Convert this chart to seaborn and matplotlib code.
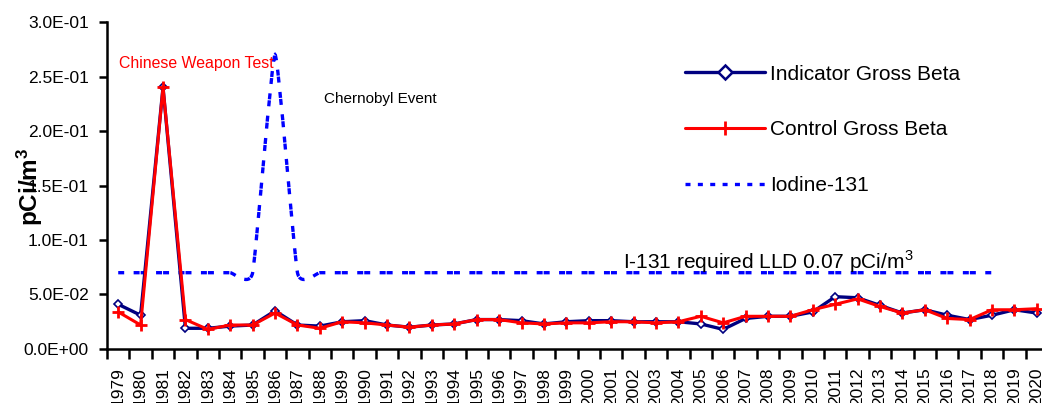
import numpy as np
import pandas as pd
import matplotlib
matplotlib.use("Agg")
import matplotlib.pyplot as plt
import seaborn as sns
from matplotlib.path import Path
from matplotlib.patches import PathPatch
from matplotlib.lines import Line2D

# Annual average airborne activity (pCi/m^3)
years = [str(y) for y in range(1979, 2021)]
indicator = [0.041, 0.031, 0.240, 0.019, 0.019, 0.021, 0.022, 0.035, 0.022, 0.021,
             0.025, 0.026, 0.022, 0.020, 0.022, 0.023, 0.027, 0.027, 0.026, 0.023,
             0.025, 0.026, 0.026, 0.025, 0.025, 0.025, 0.023, 0.018, 0.028, 0.030,
             0.030, 0.034, 0.048, 0.047, 0.040, 0.033, 0.036, 0.031, 0.027, 0.031,
             0.036, 0.033]
control = [0.034, 0.022, 0.240, 0.027, 0.018, 0.022, 0.022, 0.033, 0.022, 0.019,
           0.025, 0.024, 0.022, 0.020, 0.022, 0.023, 0.027, 0.027, 0.024, 0.023,
           0.024, 0.024, 0.025, 0.025, 0.024, 0.025, 0.030, 0.024, 0.030, 0.030,
           0.030, 0.036, 0.041, 0.046, 0.039, 0.033, 0.036, 0.028, 0.027, 0.036,
           0.036, 0.037]
# Iodine-131 reported through 2018
iodine = [0.07, 0.07, 0.07, 0.07, 0.07, 0.07, 0.07, 0.27, 0.07, 0.07,
          0.07, 0.07, 0.07, 0.07, 0.07, 0.07, 0.07, 0.07, 0.07, 0.07,
          0.07, 0.07, 0.07, 0.07, 0.07, 0.07, 0.07, 0.07, 0.07, 0.07,
          0.07, 0.07, 0.07, 0.07, 0.07, 0.07, 0.07, 0.07, 0.07, 0.07]
lld = 0.07
series_labels = ["Indicator Gross Beta", "Control Gross Beta", "Iodine-131"]
y_ticks = [0.0, 0.05, 0.10, 0.15, 0.20, 0.25, 0.30]

sns.set_theme(style="white")
plt.rcParams["font.family"] = ["Liberation Sans", "DejaVu Sans"]
plt.rcParams["mathtext.fontset"] = "custom"
plt.rcParams["mathtext.rm"] = "Liberation Sans"
plt.rcParams["mathtext.bf"] = "Liberation Sans:bold"
plt.rcParams["lines.scale_dashes"] = False
for key in ["text.color", "axes.labelcolor", "xtick.color", "ytick.color", "axes.edgecolor"]:
    plt.rcParams[key] = "black"

NAVY, RED, BLUE = "#000080", "#FF0000", "#0000FF"

fig = plt.figure(figsize=(10.42, 4.03), dpi=100)
ax = fig.add_axes([0.1027, 0.134, 0.9031, 0.8114])

pos = np.arange(len(years))
df = pd.DataFrame({"pos": pos, "year": years,
                   "Indicator": indicator, "Control": control})

sns.lineplot(data=df, x="pos", y="Indicator", ax=ax, color=NAVY, lw=2.4,
             marker="D", markersize=4, markerfacecolor="white",
             markeredgecolor=NAVY, markeredgewidth=1.2, zorder=2)
sns.lineplot(data=df, x="pos", y="Control", ax=ax, color=RED, lw=2.2,
             marker="+", markersize=9, markeredgecolor=RED,
             markeredgewidth=2.0, zorder=3)


def smoothed_path(xs, ys, tension):
    """Cubic Bezier path through the points (spreadsheet-style smoothed line)."""
    pts = np.column_stack([xs, ys]).astype(float)
    n = len(pts)
    verts = [pts[0]]
    codes = [Path.MOVETO]
    for i in range(n - 1):
        p0 = pts[max(i - 1, 0)]
        p1 = pts[i]
        p2 = pts[i + 1]
        p3 = pts[min(i + 2, n - 1)]
        verts += [p1 + (p2 - p0) * tension, p2 - (p3 - p1) * tension, p2]
        codes += [Path.CURVE4] * 3
    return Path(verts, codes)


iod_path = smoothed_path(np.arange(len(iodine)), iodine, 0.07)
ax.add_patch(PathPatch(iod_path, fill=False, edgecolor=BLUE, lw=2.4,
                       linestyle=(0, (4.3, 6.8, 4.3, 0.75)), capstyle="butt",
                       zorder=1.5))

# Axes styling
ax.set_xlim(-0.5, len(years) - 0.5)
ax.set_ylim(0, 0.3)
ax.set_xticks(np.arange(len(years) + 1) - 0.5)
ax.set_xticklabels([])
ax.set_xticks(pos, minor=True)
ax.set_xticklabels(years, minor=True, rotation=90, fontsize=12.5)
ax.tick_params(axis="x", which="major", length=7, width=1.8, direction="out", bottom=True)
ax.tick_params(axis="x", which="minor", length=0, pad=13)
ax.set_yticks(y_ticks)
ax.set_yticklabels([f"{v:.1E}" for v in y_ticks], fontsize=12.5)
ax.tick_params(axis="y", length=6, width=1.8, direction="out", pad=7, left=True)
ax.set_xlabel("")
ax.set_ylabel(r"$\mathbf{pCi/m^3}$", fontsize=17.5)
ax.yaxis.set_label_coords(-0.0818, 0.495)
ax.yaxis.label.set_va("center")
for side in ["top", "right"]:
    ax.spines[side].set_visible(False)
for side in ["left", "bottom"]:
    ax.spines[side].set_linewidth(1.8)
    ax.spines[side].set_color("black")
ax.grid(False)

# Annotations
ax.text(0.04, 0.2575, "Chinese Weapon Test", color=RED, fontsize=11.4, va="baseline")
ax.text(9.19, 0.2254, "Chernobyl Event", color="black", fontsize=11, va="baseline")
ax.text(22.54, 0.074, f"I-131 required LLD {lld} pCi/m$^3$", color="black",
        fontsize=15, va="baseline")

# Legend
handles = [
    Line2D([], [], color=NAVY, lw=2.4, marker="D", markersize=7,
           markerfacecolor="white", markeredgecolor=NAVY, markeredgewidth=1.8),
    Line2D([], [], color=RED, lw=2.2, marker="+", markersize=10,
           markeredgewidth=2.0),
    Line2D([], [], color=BLUE, lw=2.4, linestyle=(0, (3.6, 5.3))),
]
ax.legend(handles, series_labels, loc="upper left",
          bbox_to_anchor=(685 / 1042, 1 - 64.5 / 403), bbox_transform=fig.transFigure,
          frameon=False, fontsize=15, handlelength=3.84, handletextpad=0.25,
          labelspacing=1.77, borderpad=0, borderaxespad=0)

fig.savefig("out.png", dpi=100, facecolor="white")
